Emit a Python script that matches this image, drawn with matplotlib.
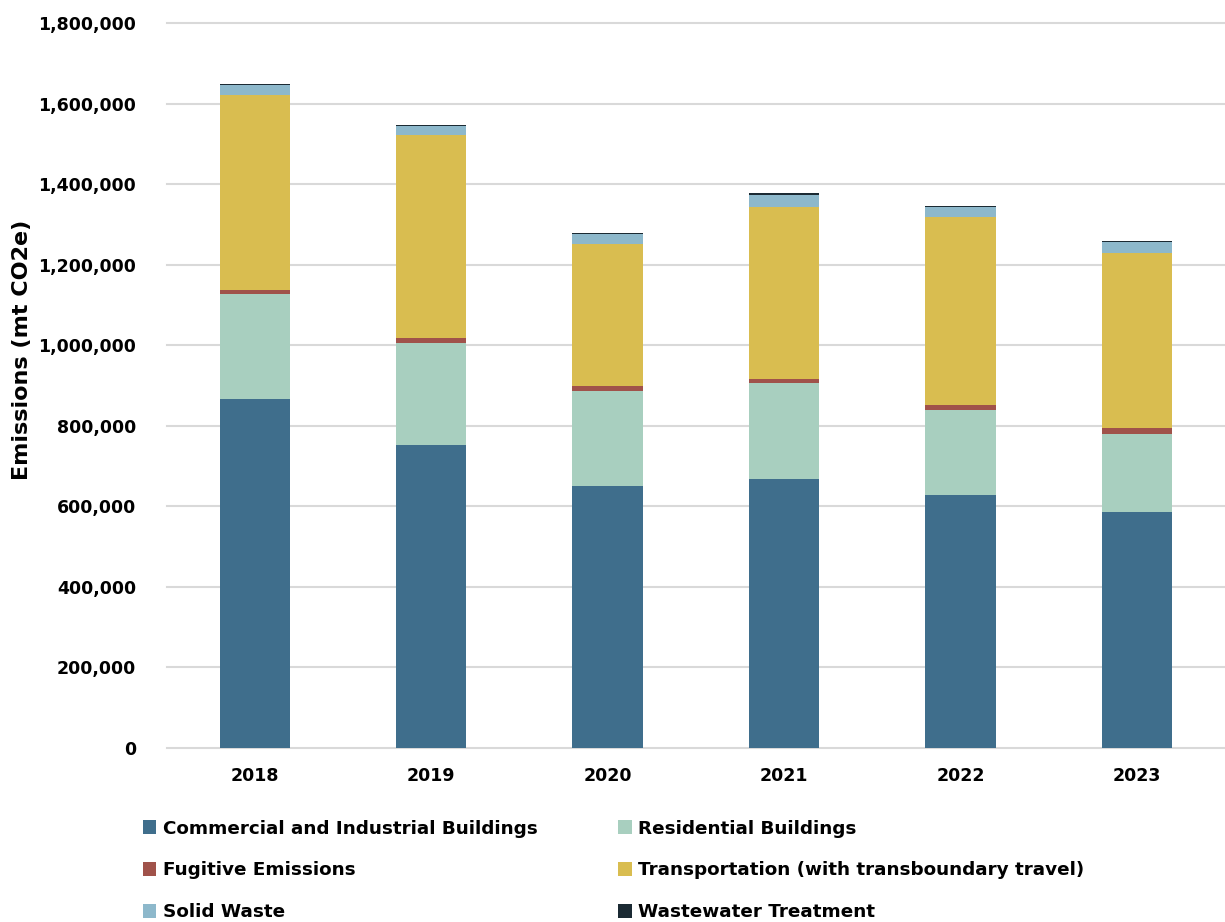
import numpy as np
import matplotlib.pyplot as plt
from matplotlib.patches import Patch
from matplotlib.ticker import FuncFormatter

years = ["2018", "2019", "2020", "2021", "2022", "2023"]

# emissions by sector, mt CO2e
commercial = [867000, 753000, 651000, 668000, 627000, 586000]
residential = [261000, 252000, 235000, 237000, 212000, 194000]
fugitive = [10000, 12000, 13000, 11000, 12000, 13000]
transportation = [484000, 504000, 351000, 428000, 468000, 436000]
solid_waste = [23000, 24000, 25000, 30000, 24000, 27000]
wastewater = [3000, 3000, 3000, 3000, 3000, 3000]

sectors = [
    ("Commercial and Industrial Buildings", commercial, "#3F6E8C"),
    ("Residential Buildings", residential, "#A8CFBF"),
    ("Fugitive Emissions", fugitive, "#A0524A"),
    ("Transportation (with transboundary travel)", transportation, "#D9BD50"),
    ("Solid Waste", solid_waste, "#8DB8CB"),
    ("Wastewater Treatment", wastewater, "#1B2A33"),
]

plt.rcParams["font.family"] = "DejaVu Sans"
plt.rcParams["font.weight"] = "bold"

fig = plt.figure(figsize=(12.25, 9.22), dpi=100)
ax = fig.add_axes([0.136, 0.189, 0.864, 0.786])

x = np.arange(len(years))
bottom = np.zeros(len(years))
for name, vals, color in sectors:
    ax.bar(x, vals, width=0.40, bottom=bottom, color=color, label=name, zorder=3)
    bottom += np.array(vals)

ax.set_xlim(-0.5, len(years) - 0.5)
ax.set_ylim(0, 1800000)
ax.set_yticks(np.arange(0, 1800001, 200000))
ax.yaxis.set_major_formatter(FuncFormatter(lambda v, p: f"{int(v):,}"))
ax.set_xticks(x)
ax.set_xticklabels(years)
ax.grid(axis="y", color="#D9D9D9", linewidth=1.5, zorder=0)
for gl in ax.get_ygridlines():
    gl.set_clip_on(False)
for s in ax.spines.values():
    s.set_visible(False)
ax.tick_params(axis="both", length=0, labelsize=12.5)
ax.tick_params(axis="y", pad=22)
ax.tick_params(axis="x", pad=14)
for lbl in ax.get_xticklabels() + ax.get_yticklabels():
    lbl.set_fontweight("bold")

fig.text(0.018, 0.621, "Emissions (mt CO2e)", rotation=90, ha="center", va="center",
         fontsize=16, fontweight="bold")

# legend laid out in two columns, filled column by column
order = [0, 2, 4, 1, 3, 5]
handles = [Patch(facecolor=sectors[i][2], label=sectors[i][0]) for i in order]
fig.legend(handles=handles, loc="upper left", bbox_to_anchor=(0.103, 0.129),
           ncol=2, frameon=False, handlelength=0.75, handleheight=0.75,
           handletextpad=0.35, columnspacing=4.4, labelspacing=1.3,
           prop={"weight": "bold", "size": 13.2})

fig.savefig("out.png", dpi=100)
